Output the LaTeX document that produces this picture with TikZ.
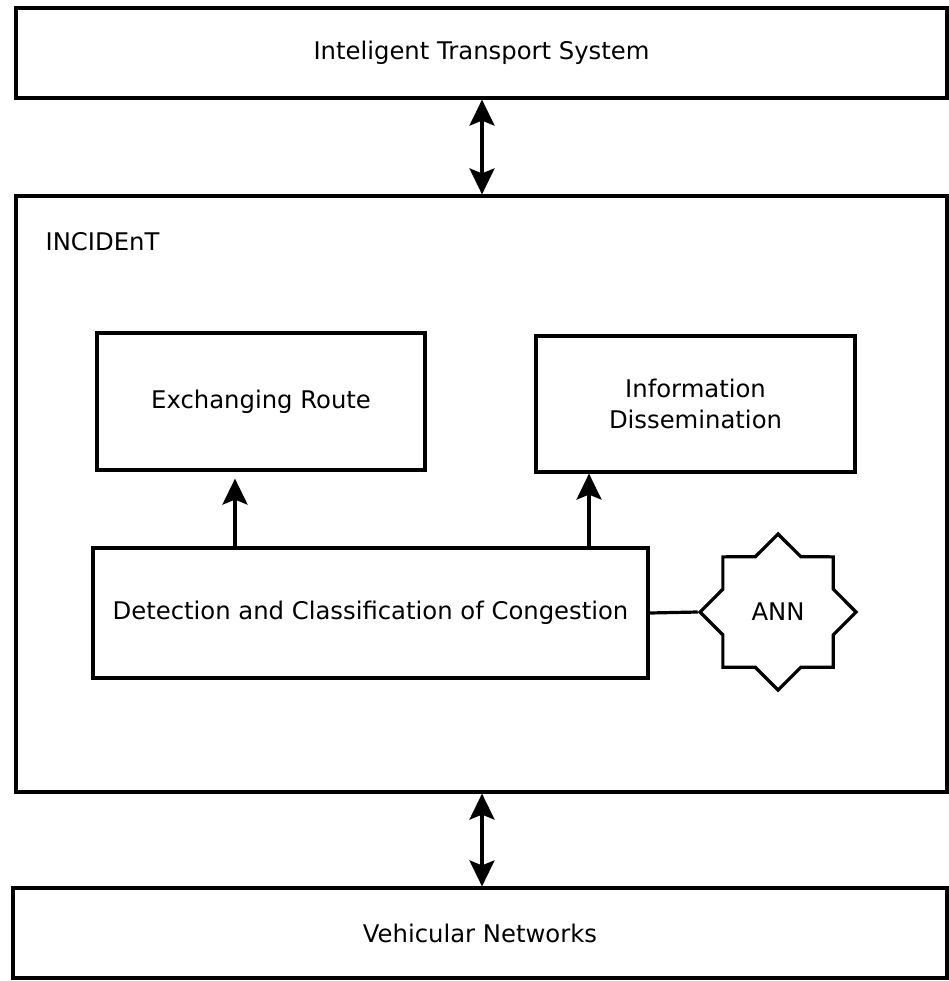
\documentclass[tikz,border=0pt]{standalone}
\usepackage{fontspec}
\setmainfont{DejaVu Sans}
\usetikzlibrary{arrows.meta,shapes.geometric}
\begin{document}
\begin{tikzpicture}[x=1pt, y=-1pt, line width=3.2pt, font=\fontsize{24.3}{31}\selectfont,
  block/.style={draw, rectangle, inner sep=0pt, align=center},
  arr/.style={-{Stealth[length=26pt 0, width=25pt 0, inset=5pt 0]}},
  biarr/.style={{Stealth[length=26pt 0, width=25pt 0, inset=5pt 0]}-{Stealth[length=26pt 0, width=25pt 0, inset=5pt 0]}}]
\useasboundingbox (0,0) rectangle (948,981);
\node[block, minimum width=931pt, minimum height=90pt] (its) at (481.5,53) {Inteligent Transport System};
\node[block, minimum width=931pt, minimum height=596pt] (inc) at (481.5,494) {};
\node[anchor=base west, inner sep=0pt] (inclabel) at (44,251) {INCIDEnT};
\node[block, minimum width=328pt, minimum height=137pt] (route) at (261,401.5) {Exchanging Route};
\node[block, minimum width=319pt, minimum height=136pt] (info) at (695.5,404) {Information\\ Dissemination};
\node[block, minimum width=555pt, minimum height=130pt] (det) at (370.5,613) {Detection and Classification of Congestion};
\node[draw, star, star points=8, star point ratio=1.3066, minimum size=156pt, inner sep=0pt] (ann) at (778,612) {ANN};
\node[block, minimum width=934pt, minimum height=90pt] (veh) at (480,933) {Vehicular Networks};
\draw[biarr] ([xshift=0.5pt]its.south) -- ([xshift=0.5pt]inc.north);
\draw[biarr] ([xshift=0.5pt]inc.south) -- ([xshift=2pt]veh.north);
\draw[arr] ([xshift=-135.5pt]det.north) -- ([xshift=-26pt, yshift=-7pt]route.south);
\draw[arr] ([xshift=218.5pt, yshift=-3pt]det.north) -- ([xshift=-106.5pt]info.south);
\draw (det.east) -- (ann.west);
\end{tikzpicture}
\end{document}
